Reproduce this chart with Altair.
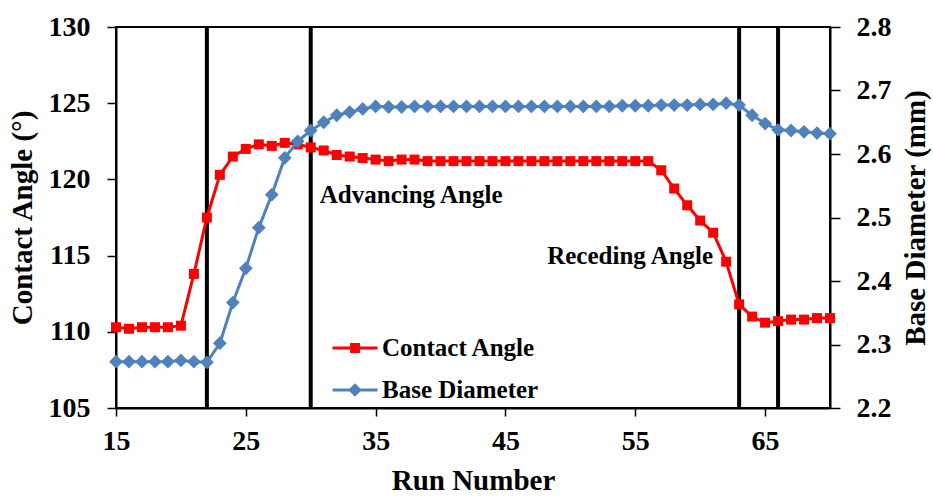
import altair as alt
import pandas as pd

FONT = "Liberation Serif"

runs = list(range(15, 71))
contact_angle = [
    110.3, 110.2, 110.3, 110.3, 110.3, 110.4, 113.8, 117.5, 120.3, 121.5,
    122.0, 122.3, 122.2, 122.4, 122.3, 122.1, 121.9, 121.6, 121.5, 121.4,
    121.3, 121.2, 121.3, 121.3, 121.2, 121.2, 121.2, 121.2, 121.2, 121.2,
    121.2, 121.2, 121.2, 121.2, 121.2, 121.2, 121.2, 121.2, 121.2, 121.2,
    121.2, 121.2, 120.6, 119.4, 118.3, 117.3, 116.5, 114.6, 111.8, 111.0,
    110.6, 110.7, 110.8, 110.8, 110.9, 110.9,
]
base_diameter = [
    2.273, 2.273, 2.273, 2.273, 2.273, 2.275, 2.273, 2.272, 2.302, 2.366,
    2.420, 2.484, 2.536, 2.594, 2.620, 2.637, 2.650, 2.661, 2.666, 2.671,
    2.675, 2.674, 2.674, 2.675, 2.675, 2.675, 2.675, 2.675, 2.675, 2.675,
    2.675, 2.675, 2.675, 2.675, 2.675, 2.675, 2.675, 2.675, 2.675, 2.676,
    2.676, 2.676, 2.677, 2.677, 2.677, 2.678, 2.678, 2.680, 2.677, 2.661,
    2.648, 2.638, 2.637, 2.635, 2.633, 2.632,
]
divider_runs = [22, 30, 63, 66]
series_names = ["Contact Angle", "Base Diameter"]
series_colors = ["#FF0000", "#4F81BD"]
x_ticks = [15, 25, 35, 45, 55, 65]
angle_ticks = [105, 110, 115, 120, 125, 130]
diam_ticks = [2.2, 2.3, 2.4, 2.5, 2.6, 2.7, 2.8]
adv_label = {"text": ["Advancing Angle"], "run": [30.7], "angle": [119.0]}
rec_label = {"text": ["Receding Angle"], "run": [61.0], "angle": [115.0]}

df = pd.DataFrame({"run": runs, "angle": contact_angle, "diam": base_diameter})

TICK_FS = 28
TITLE_FS = 29

xscale = alt.Scale(domain=[15, 70], nice=False, zero=False)
angle_scale = alt.Scale(domain=[105, 130], nice=False, zero=False)
diam_scale = alt.Scale(domain=[2.2, 2.8], nice=False, zero=False)

common = dict(grid=False, labelFont=FONT, labelFontSize=TICK_FS,
              labelFontWeight="bold", labelColor="black", titleFont=FONT,
              titleFontSize=TITLE_FS, titleFontWeight="bold",
              titleColor="black", tickColor="black", tickWidth=1.5,
              domainColor="black", domainWidth=2, labelFlush=False,
              labelOverlap=False)

x_axis = alt.Axis(values=x_ticks, title="Run Number", tickSize=8,
                  labelPadding=11, titlePadding=11, **common)
angle_axis = alt.Axis(values=angle_ticks, title="Contact Angle (°)",
                      orient="left", tickSize=9, labelPadding=17,
                      titlePadding=11, **common)
diam_axis = alt.Axis(values=diam_ticks, format=".1f",
                     title="Base Diameter (mm)", orient="right",
                     titleAngle=270, titleBaseline="top", tickSize=10,
                     labelPadding=16, titlePadding=10, **common)

X = alt.X("run:Q", scale=xscale, axis=x_axis)
Y_angle = alt.Y("angle:Q", scale=angle_scale, axis=angle_axis)

rules = alt.Chart(pd.DataFrame({"run": divider_runs})).mark_rule(
    color="black", strokeWidth=4
).encode(x=X)

red = alt.Chart(df).mark_line(
    color=series_colors[0], strokeWidth=3,
    point=alt.OverlayMarkDef(shape="square", size=100, filled=True,
                             color=series_colors[0], opacity=1)
).encode(x=X, y=Y_angle)

text_adv = alt.Chart(pd.DataFrame(adv_label)).mark_text(
    align="left", baseline="middle", font=FONT, fontSize=25,
    fontWeight="bold", color="black"
).encode(x=X, y=Y_angle, text="text:N")

text_rec = alt.Chart(pd.DataFrame(rec_label)).mark_text(
    align="right", baseline="middle", font=FONT, fontSize=25,
    fontWeight="bold", color="black"
).encode(x=X, y=Y_angle, text="text:N")

legend_paths = [
    "M-1.5,-0.1H1.5V0.1H-1.5Z M-0.33,-0.33H0.33V0.33H-0.33Z",
    "M-1.5,-0.1H1.5V0.1H-1.5Z M0,-0.45L0.45,0L0,0.45L-0.45,0Z",
]
leg = alt.Legend(orient="none", legendX=224, legendY=306, title=None,
                 labelFont=FONT, labelFontSize=25, labelFontWeight="bold",
                 labelColor="black", symbolSize=900, symbolStrokeWidth=0,
                 rowPadding=14, labelOffset=12, padding=0)
legend_layer = alt.Chart(pd.DataFrame({"series": series_names})).transform_filter(
    "false"
).mark_point(filled=True, opacity=1).encode(
    color=alt.Color("series:N", scale=alt.Scale(domain=series_names, range=series_colors), legend=leg),
    shape=alt.Shape("series:N", scale=alt.Scale(domain=series_names, range=legend_paths), legend=leg),
)

blue = alt.Chart(df).mark_line(
    color=series_colors[1], strokeWidth=3,
    point=alt.OverlayMarkDef(shape="diamond", size=190, filled=True,
                             color=series_colors[1], opacity=1)
).encode(
    x=X,
    y=alt.Y("diam:Q", scale=diam_scale, axis=diam_axis),
)

left_layer = alt.layer(rules, red, text_adv, text_rec, legend_layer)

chart = alt.layer(left_layer, blue).resolve_scale(
    y="independent"
).properties(
    width=714, height=381,
    padding={"left": 116, "top": 27, "right": 103, "bottom": 88},
    autosize=alt.AutoSizeParams(type="none"),
    background="white",
).configure_view(stroke="black", strokeWidth=2)

chart.save("out.html", embed_options={"renderer": "svg", "actions": False})
